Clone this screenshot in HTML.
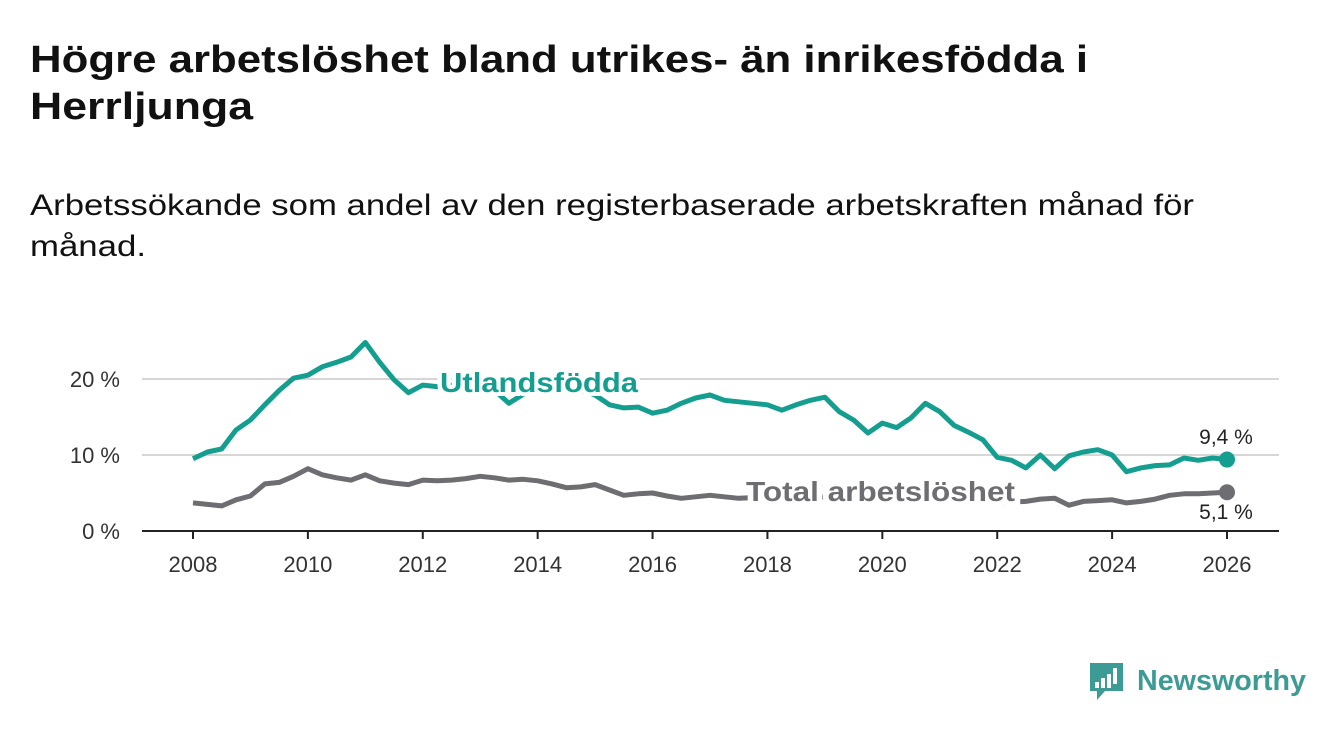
<!DOCTYPE html>
<html><head><meta charset="utf-8"><style>
body{margin:0;background:#fff;}
svg{display:block;font-family:"Liberation Sans",sans-serif;}
</style></head><body>
<svg id="chart" width="1340" height="734" viewBox="0 0 1340 734">
<text x="30" y="72" font-size="38" font-weight="bold" fill="#111" textLength="1058" lengthAdjust="spacingAndGlyphs">Högre arbetslöshet bland utrikes- än inrikesfödda i</text>
<text x="30" y="119" font-size="38" font-weight="bold" fill="#111" textLength="223" lengthAdjust="spacingAndGlyphs">Herrljunga</text>
<text x="30" y="215" font-size="30" fill="#111" textLength="1164" lengthAdjust="spacingAndGlyphs">Arbetssökande som andel av den registerbaserade arbetskraften månad för</text>
<text x="30" y="256" font-size="30" fill="#111" textLength="116" lengthAdjust="spacingAndGlyphs">månad.</text>
<g id="grid"></g><g id="lines"></g><g id="labels"></g>
<g>
<path d="M1090 663h33v28h-18l-8 9v-9h-7z" fill="#3d9b96"/>
<rect x="1095" y="682" width="4" height="6" fill="#fff"/><rect x="1101" y="678" width="4" height="10" fill="#fff"/><rect x="1107" y="674" width="4" height="14" fill="#fff"/><rect x="1113" y="668" width="4" height="16" fill="#fff"/>
<text x="1137" y="690" font-size="29" font-weight="bold" fill="#3d9b96" textLength="169" lengthAdjust="spacingAndGlyphs">Newsworthy</text>
</g>
</svg>
<script>
const utlands=[9.5,10.4,10.8,13.3,14.6,16.6,18.5,20.1,20.5,21.6,22.2,22.9,24.8,22.2,19.9,18.2,19.2,19.0,19.2,19.0,19.0,18.5,16.8,18.0,18.5,18.8,19.2,18.5,17.9,16.6,16.2,16.3,15.5,15.9,16.8,17.5,17.9,17.2,17.0,16.8,16.6,15.9,16.6,17.2,17.6,15.7,14.6,12.9,14.2,13.6,14.9,16.8,15.7,13.9,13.0,12.0,9.7,9.3,8.3,10.0,8.2,9.9,10.4,10.7,10.0,7.8,8.3,8.6,8.7,9.6,9.3,9.6,9.4];
const total=[3.7,3.5,3.3,4.1,4.6,6.2,6.4,7.2,8.2,7.4,7.0,6.7,7.4,6.6,6.3,6.1,6.7,6.6,6.7,6.9,7.2,7.0,6.7,6.8,6.6,6.2,5.7,5.8,6.1,5.4,4.7,4.9,5.0,4.6,4.3,4.5,4.7,4.5,4.3,4.4,4.5,4.4,4.3,4.4,4.5,4.6,4.4,4.3,4.5,4.8,4.9,4.7,4.5,4.3,4.2,4.0,3.9,3.8,3.9,4.2,4.3,3.4,3.9,4.0,4.1,3.7,3.9,4.2,4.7,4.9,4.9,5.0,5.1];
const startYear=2008, stepYears=0.25;
const yTicks=[0,10,20];
const yTickLabels=["0 %","10 %","20 %"];
const xTicks=[2008,2010,2012,2014,2016,2018,2020,2022,2024,2026];
const NS="http://www.w3.org/2000/svg";
const X=t=>193+(t-2008)*(1227-193)/18;
const Y=v=>531-v*7.6;
function mk(tag,attrs,parent,txt){const e=document.createElementNS(NS,tag);for(const k in attrs)e.setAttribute(k,attrs[k]);if(txt!==undefined)e.textContent=txt;parent.appendChild(e);return e;}
const grid=document.getElementById('grid'),lines=document.getElementById('lines'),labels=document.getElementById('labels');
yTicks.forEach((v,i)=>{
 if(v>0){const l=mk('line',{x1:142,x2:1279,y1:Y(v),y2:Y(v),stroke:'#d6d6d6','stroke-width':2},grid);
 
 }
 const t=mk('text',{x:120,y:Y(v)+8,'font-size':22,fill:'#333','text-anchor':'end'},grid,yTickLabels[i]);
 
 
});
const ax=mk('line',{x1:142,x2:1279,y1:531,y2:531,stroke:'#222','stroke-width':2},grid);


xTicks.forEach(y=>{
 const tk=mk('line',{x1:X(y),x2:X(y),y1:531,y2:539,stroke:'#222','stroke-width':2},grid);
 
 
 const t=mk('text',{x:X(y),y:572,'font-size':22,fill:'#333','text-anchor':'middle'},grid,String(y));
 
 
});
function series(vals,color,name){
 const d=vals.map((v,i)=>(i?'L':'M')+X(startYear+i*stepYears).toFixed(1)+' '+Y(v).toFixed(1)).join(' ');
 const p=mk('path',{d:d,fill:'none',stroke:color,'stroke-width':5,'stroke-linejoin':'round'},lines);
 
 
 const n=vals.length-1;
 const c=mk('circle',{cx:X(startYear+n*stepYears),cy:Y(vals[n]),r:8,fill:color},lines);
 
 
}
series(total,'#6d6d72','total');
series(utlands,'#139e8f','utlands');
const l1=mk('text',{x:440,y:392,'font-size':28,'font-weight':'bold',fill:'#139e8f',stroke:'#fff','stroke-width':8,'paint-order':'stroke','textLength':198,'lengthAdjust':'spacingAndGlyphs'},labels,'Utlandsfödda');


const l2=mk('text',{x:746,y:501,'font-size':28,'font-weight':'bold',fill:'#6d6d72',stroke:'#fff','stroke-width':10,'paint-order':'stroke','textLength':269,'lengthAdjust':'spacingAndGlyphs'},labels,'Total arbetslöshet');


const v1=mk('text',{x:1226,y:444,'font-size':21,fill:'#222','text-anchor':'middle'},labels,String(utlands[utlands.length-1]).replace('.',',')+' %');


const v2=mk('text',{x:1226,y:519,'font-size':21,fill:'#222','text-anchor':'middle'},labels,String(total[total.length-1]).replace('.',',')+' %');


</script>
</body></html>
